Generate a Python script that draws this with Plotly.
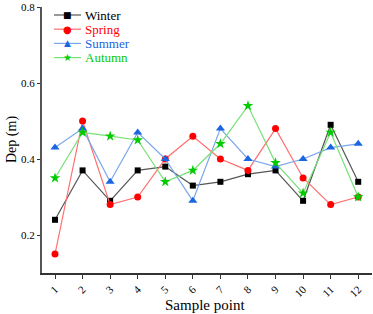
import plotly.graph_objects as go

samples = list(range(1, 13))
tick_labels = [str(i) for i in samples]
winter = [0.24, 0.37, 0.29, 0.37, 0.38, 0.33, 0.34, 0.36, 0.37, 0.29, 0.49, 0.34]
spring = [0.15, 0.50, 0.28, 0.30, 0.40, 0.46, 0.40, 0.37, 0.48, 0.35, 0.28, 0.30]
summer = [0.43, 0.48, 0.34, 0.47, 0.40, 0.29, 0.48, 0.40, 0.38, 0.40, 0.43, 0.44]
autumn = [0.35, 0.47, 0.46, 0.45, 0.34, 0.37, 0.44, 0.54, 0.39, 0.31, 0.47, 0.30]

series = [
    ("Winter", winter, "#000000", "#555555", "square", 6, "■", 9),
    ("Spring", spring, "#ff0000", "#ff6e6e", "circle", 7, "●", 10),
    ("Summer", summer, "#1a66e0", "#7aa6ec", "triangle-up", 8, "▲", 9),
    ("Autumn", autumn, "#00cc00", "#77e077", "star", 8, "★", 10),
]

font = "Liberation Serif, Times New Roman, serif"
W, H = 373, 314
L, R, T, B = 42, 1, 7, 41
pw, ph = W - L - R, H - T - B

def px_x(px):
    return (px - L) / pw

def px_y(py):
    return (H - B - py) / ph

fig = go.Figure()
shapes = []
annotations = []
for i, (name, vals, mcol, lcol, sym, size, glyph, gsize) in enumerate(series):
    fig.add_trace(go.Scatter(
        x=samples, y=vals, mode="lines+markers", name=name,
        line=dict(color=lcol, width=1.2),
        marker=dict(color=mcol, symbol=sym, size=size, line=dict(width=0)),
        showlegend=False,
    ))
    ry = 15 + i * 14.2
    shapes.append(dict(type="line", xref="paper", yref="paper",
                       x0=px_x(54), x1=px_x(81), y0=px_y(ry), y1=px_y(ry),
                       line=dict(color=lcol, width=1.2)))
    annotations.append(dict(xref="paper", yref="paper", x=px_x(67.5), y=px_y(ry),
                            text=glyph, showarrow=False, xanchor="center", yanchor="middle",
                            font=dict(color=mcol, size=gsize, family="DejaVu Sans")))
    annotations.append(dict(xref="paper", yref="paper", x=px_x(83), y=px_y(ry),
                            text=name, showarrow=False, xanchor="left", yanchor="middle",
                            font=dict(color=mcol, size=13, family=font)))

annotations.append(dict(xref="paper", yref="paper", x=px_x(205), y=px_y(305),
                        text="Sample point", showarrow=False, xanchor="center", yanchor="middle",
                        font=dict(size=15, family=font, color="black")))
annotations.append(dict(xref="paper", yref="paper", x=px_x(12), y=px_y(140),
                        text="Dep (m)", showarrow=False, xanchor="center", yanchor="middle",
                        textangle=-90, font=dict(size=14, family=font, color="black")))

fig.update_layout(
    width=W, height=H,
    margin=dict(l=L, r=R, t=T, b=B),
    paper_bgcolor="white", plot_bgcolor="white",
    font=dict(family=font, size=11, color="black"),
    showlegend=False,
    shapes=shapes, annotations=annotations,
    xaxis=dict(range=[0.528, 12.5], tickvals=samples, ticktext=tick_labels,
               tickangle=-45, showgrid=False, zeroline=False, automargin=False,
               showline=True, linecolor="#333", linewidth=1.5,
               ticks="outside", ticklen=4, tickcolor="#333"),
    yaxis=dict(range=[0.1, 0.8], tickvals=[0.2, 0.4, 0.6, 0.8],
               ticktext=["0.2", "0.4", "0.6", "0.8"], automargin=False,
               showgrid=False, zeroline=False,
               showline=True, linecolor="#555", linewidth=2,
               ticks="outside", ticklen=3, tickcolor="#333"),
)

fig.write_html("out.html", config={"displayModeBar": False},
               post_script="document.body.style.margin='0';document.body.style.overflow='hidden';")
